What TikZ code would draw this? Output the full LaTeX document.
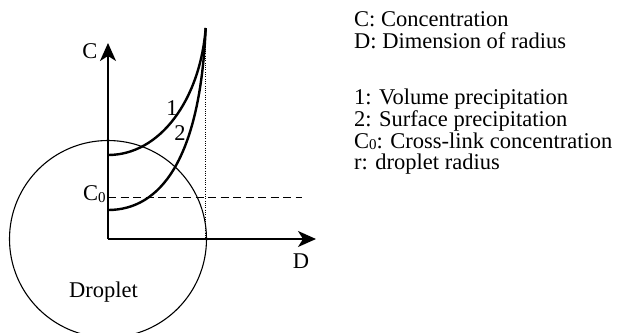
\documentclass[tikz,border=0pt]{standalone}
\usepackage{fontspec}
\setmainfont{Liberation Serif}
\usetikzlibrary{arrows.meta}
\newcommand{\subzero}{\raisebox{-1.5pt}{\fontsize{15}{15}\selectfont 0}}
\begin{document}
\begin{tikzpicture}[x=1pt,y=-1pt,
  lbl/.style={inner sep=0pt,anchor=base,font=\fontsize{22.5}{22.5}\selectfont},
  legend/.style={inner sep=0pt,anchor=north west,align=left,font=\fontsize{22.5}{21.7}\selectfont},
  axis/.style={line width=1.8pt,-{Stealth[length=18pt,width=16pt,inset=5pt]}},
  curve/.style={line width=2.4pt},
  guide/.style={line width=0.9pt,dash pattern=on 1pt off 1.3pt},
  level/.style={line width=1.7pt,dash pattern=on 8pt off 4.5pt},
  drop/.style={line width=1.1pt}]
\useasboundingbox (0,0) rectangle (617,332);
% key points
\coordinate (O) at (108,239);
\coordinate (Ctip) at (108,43);
\coordinate (Dtip) at (316,239);
\coordinate (top) at (205.7,28);
\coordinate (base) at (205.7,239);
\coordinate (s1) at (108,155);
\coordinate (s2) at (108,210);
\coordinate (h0) at (108,197.5);
\coordinate (h1) at (302,197.5);
% droplet
\draw[drop] (O) circle[radius=98.5];
% guide lines
\draw[guide] (top) -- (base);
\draw[level] (h0) -- (h1);
% axes
\draw[axis] (O) -- (Ctip);
\draw[axis] (O) -- (Dtip);
% curves
\draw[curve] (s1) .. controls (160,155) and (200,100) .. (top);
\draw[curve] (s2) .. controls (160,210) and (200,160) .. (top);
% labels
\node[lbl] (lC) at (90,58) {C};
\node[lbl,anchor=base west] (lC0) at (83,200.5) {C\subzero};
\node[lbl] (lD) at (301,268) {D};
\node[lbl] (l1) at (172,115) {1};
\node[lbl] (l2) at (180,140) {2};
\node[lbl] (ldrop) at (103.5,297) {Droplet};
% legend
\node[legend] (key) at (354,10.5) {\rule{0pt}{16pt}C: Concentration\\
D: Dimension of radius\\[34.6pt]
1: Volume precipitation\\
2: Surface precipitation\\
C\subzero: Cross-link concentration\\
r: droplet radius};
\end{tikzpicture}
\end{document}
